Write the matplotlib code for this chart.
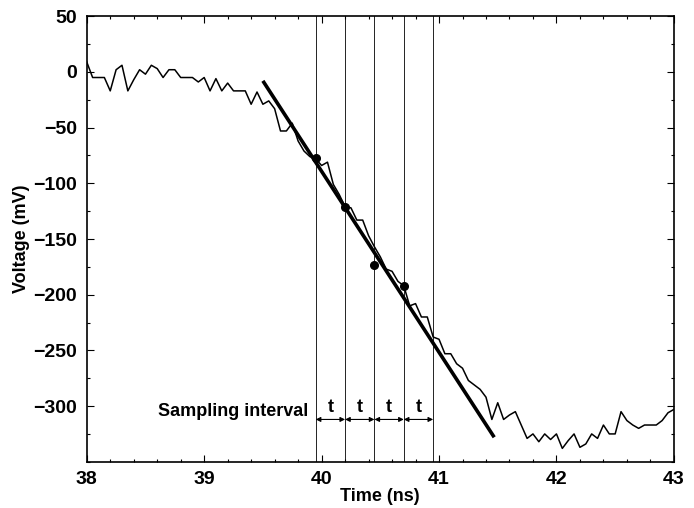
import numpy as np
import matplotlib
matplotlib.use("Agg")
import matplotlib.pyplot as plt
from matplotlib.ticker import MultipleLocator

plt.rcParams['font.family'] = ['Liberation Sans', 'DejaVu Sans']
plt.rcParams['font.weight'] = 'bold'

# measured waveform, one sample every 0.05 ns
t_start, t_step = 38.0, 0.05
voltage = [
    9, -5, -5, -5, -17, 2, 6, -17, -7, 2,
    -2, 6, 3, -5, 2, 2, -5, -5, -5, -9,
    -5, -17, -6, -17, -10, -17, -17, -17, -29, -18,
    -29, -26, -33, -53, -53, -46, -62, -71, -76, -78,
    -84, -81, -101, -110, -121, -122, -133, -133, -147, -157,
    -166, -177, -179, -188, -192, -210, -208, -220, -220, -238,
    -240, -253, -253, -262, -266, -277, -281, -285, -292, -312,
    -297, -312, -308, -305, -317, -329, -325, -332, -325, -330,
    -325, -338, -331, -325, -337, -334, -325, -329, -317, -325,
    -325, -305, -313, -317, -320, -317, -317, -317, -313, -306,
    -303,
]
time = t_start + t_step * np.arange(len(voltage))

# straight-line fit of the edge
fit_t = [39.5, 41.47]
fit_v = [-8, -328]

# sampling instants
sample_t = [39.95, 40.2, 40.45, 40.7, 40.95]
dot_t = [39.95, 40.2, 40.45, 40.7]
dot_v = [-77, -121, -173, -192]

fig = plt.figure(figsize=(6.94, 5.08), dpi=100)
ax = fig.add_axes([0.125, 0.091, 0.846, 0.877])

for x in sample_t:
    ax.axvline(x, color='black', lw=0.6)

ax.plot(time, voltage, color='black', lw=1.1)
ax.plot(fit_t, fit_v, color='black', lw=2.6, solid_capstyle='butt')
ax.plot(dot_t, dot_v, 'o', color='black', ms=5.5)

# sampling interval arrows
arrow_y = -312
for a, b in zip(sample_t[:-1], sample_t[1:]):
    ax.annotate('', xy=(a, arrow_y), xytext=(b, arrow_y),
                arrowprops=dict(arrowstyle='<|-|>', color='black', lw=0.8,
                                mutation_scale=7, shrinkA=0, shrinkB=0))
    ax.text((a + b) / 2, arrow_y + 3, 't', ha='center', va='bottom',
            fontsize=13, fontweight='bold')
ax.text(39.89, -305, 'Sampling interval', ha='right', va='center',
        fontsize=13, fontweight='bold')

ax.set_xlim(38, 43)
ax.set_ylim(-350, 50)
ax.set_xticks([38, 39, 40, 41, 42, 43])
ax.set_yticks([-300, -250, -200, -150, -100, -50, 0, 50])
ax.xaxis.set_minor_locator(MultipleLocator(0.2))
ax.yaxis.set_minor_locator(MultipleLocator(25))
ax.tick_params(which='both', direction='in', top=True, right=True,
               labelsize=14, width=0.8)
ax.tick_params(which='major', length=5, pad=7)
ax.tick_params(which='minor', length=2.5)
for s in ax.spines.values():
    s.set_linewidth(1.2)

ax.set_xlabel('Time (ns)', fontsize=13, fontweight='bold', labelpad=0)
ax.set_ylabel('Voltage (mV)', fontsize=13, fontweight='bold', labelpad=2)

fig.savefig('out.png', dpi=100)
